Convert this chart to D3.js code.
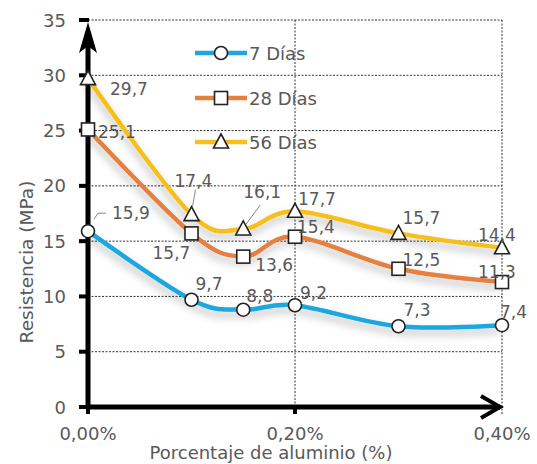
<!DOCTYPE html>
<html><head><meta charset="utf-8">
<script src="https://cdn.jsdelivr.net/npm/d3@7"></script>
<style>html,body{margin:0;padding:0;background:#fff;}svg{display:block;font-family:"DejaVu Sans",sans-serif;}</style>
</head><body>
<svg id="c" width="537" height="464"></svg>
<script>
// ---- data ----
const xValues = [0, 0.1, 0.15, 0.2, 0.3, 0.4];           // % aluminio
const seriesNames = ["7 Días", "28 Días", "56 Días"];
const dias7  = [15.9, 9.7, 8.8, 9.2, 7.3, 7.4];
const dias28 = [25.1, 15.7, 13.6, 15.4, 12.5, 11.3];
const dias56 = [29.7, 17.4, 16.1, 17.7, 15.7, 14.4];
const yTicks = [0, 5, 10, 15, 20, 25, 30, 35];
const xTicks = [0, 0.2, 0.4];
const xTickLabels = ["0,00%", "0,20%", "0,40%"];

// label offsets (layout only)
const labelOff = [
  [[24,-18],[4,-16],[3,-14],[5,-12],[5,-16],[-2,-13]],
  [[10,3],[-39,20],[12,8],[2,-10],[4,-9],[-24,-10]],
  [[22,10],[-17,-34],[0,-37],[3,-12],[4,-15],[-24,-13]]
];
const colors = ["#1EA7E1", "#E5813F", "#F6C01C"];
const markers = ["circle", "square", "triangle"];

const svg = d3.select("#c");
const x = d3.scaleLinear().domain([0, 0.4]).range([88, 502]);
const y = d3.scaleLinear().domain([0, 35]).range([407, 20]);
const txt = "#595959";

const defs = svg.append("defs");
const f = defs.append("filter").attr("id","sh").attr("x","-20%").attr("y","-20%").attr("width","140%").attr("height","160%");
f.append("feDropShadow").attr("dx",-1).attr("dy",5).attr("stdDeviation",4).attr("flood-color","#000").attr("flood-opacity",0.28);

// gridlines
const g = svg.append("g");
g.selectAll("line.h").data(yTicks.filter(d => d > 0)).join("line")
  .attr("x1", x(0)).attr("x2", x(0.4)).attr("y1", d => y(d)).attr("y2", d => y(d))
  .attr("stroke", "#333").attr("stroke-width", 1).attr("stroke-dasharray", "2,1.5");
g.selectAll("line.v").data(xTicks.filter(d => d > 0)).join("line")
  .attr("x1", d => x(d)).attr("x2", d => x(d)).attr("y1", y(35)).attr("y2", y(0) + 8)
  .attr("stroke", "#333").attr("stroke-width", 1).attr("stroke-dasharray", "2,1.5");

// axes ticks labels
svg.append("g").selectAll("text").data(yTicks).join("text")
  .attr("x", 66).attr("y", d => y(d) + 6.5).attr("text-anchor", "end")
  .attr("font-size", 18).attr("fill", txt).text(d => d);
svg.append("g").selectAll("text").data(xTicks).join("text")
  .attr("x", d => x(d)).attr("y", 440).attr("text-anchor", "middle")
  .attr("font-size", 18).attr("fill", txt).text((d, i) => xTickLabels[i]);

svg.append("text").attr("x", 271).attr("y", 459).attr("text-anchor", "middle")
  .attr("font-size", 18).attr("fill", txt).text("Porcentaje de aluminio (%)");
svg.append("text").attr("transform", "translate(33,262) rotate(-90)").attr("text-anchor", "middle")
  .attr("font-size", 18.5).attr("fill", txt).text("Resistencia (MPa)");

// axis ticks marks
svg.append("g").selectAll("rect").data(yTicks).join("rect")
  .attr("x", 79).attr("y", d => y(d) - 2).attr("width", 10).attr("height", 4).attr("fill", "#000");
svg.append("g").selectAll("rect").data(xTicks.slice(0,2)).join("rect")
  .attr("x", d => x(d) - 2).attr("y", y(0)).attr("width", 4).attr("height", 7).attr("fill", "#000");

// axes lines
svg.append("line").attr("x1", x(0)).attr("x2", x(0)).attr("y1", y(0) + 2).attr("y2", 40)
  .attr("stroke", "#000").attr("stroke-width", 5);
svg.append("path").attr("d", `M${x(0)},22 L${x(0)+9},53 L${x(0)},46 L${x(0)-9},53 Z`).attr("fill", "#000");
svg.append("line").attr("x1", x(0) - 2).attr("x2", x(0.4) - 2).attr("y1", y(0)).attr("y2", y(0))
  .attr("stroke", "#000").attr("stroke-width", 5);
svg.append("path").attr("d", `M${x(0.4)-21},${y(0)-11} L${x(0.4)-2},${y(0)} L${x(0.4)-21},${y(0)+11}`)
  .attr("fill", "none").attr("stroke", "#000").attr("stroke-width", 4);

// series
const allSeries = [dias7, dias28, dias56];
const line = d3.line().x((d, i) => x(xValues[i])).y(d => y(d)).curve(d3.curveCardinal.tension(0));

function drawMarker(sel, type) {
  if (type === "circle") {
    sel.append("circle").attr("r", 6.5).attr("fill", "#fff").attr("stroke", "#222").attr("stroke-width", 1.6);
  } else if (type === "square") {
    sel.append("rect").attr("x", -6.5).attr("y", -6.5).attr("width", 13).attr("height", 13)
      .attr("fill", "#fff").attr("stroke", "#222").attr("stroke-width", 1.6);
  } else {
    sel.append("path").attr("d", "M0,-8 L7.5,6 L-7.5,6 Z").attr("fill", "#fff").attr("stroke", "#222").attr("stroke-width", 1.6);
  }
}

const lines = svg.append("g").attr("filter", "url(#sh)");
allSeries.forEach((s, k) => {
  lines.append("path").datum(s).attr("d", line).attr("fill", "none")
    .attr("stroke", colors[k]).attr("stroke-width", 4.5);
});

// leader lines
const leader = svg.append("g").attr("stroke", "#8a8a8a").attr("stroke-width", 1).attr("fill","none");
leader.append("path").attr("d", `M${x(0)+6},${y(dias7[0])-12} L${x(0)+10},${y(dias7[0])-18} L${x(0)+18},${y(dias7[0])-18}`);
leader.append("line").attr("x1", x(0.1)+1).attr("y1", y(dias56[1])-8).attr("x2", x(0.1)+4).attr("y2", y(dias56[1])-25);
leader.append("line").attr("x1", x(0.15)+3).attr("y1", y(dias56[2])-5).attr("x2", x(0.15)+17).attr("y2", y(dias56[2])-24);

allSeries.forEach((s, k) => {
  const mg = svg.append("g");
  s.forEach((v, i) => {
    const m = mg.append("g").attr("transform", `translate(${x(xValues[i])},${y(v)})`);
    drawMarker(m, markers[k]);
  });
});
allSeries.forEach((s, k) => {
  svg.append("g").selectAll("text").data(s).join("text")
    .attr("x", (d, i) => x(xValues[i]) + labelOff[k][i][0])
    .attr("y", (d, i) => y(d) + labelOff[k][i][1] + 6)
    .attr("font-size", 17).attr("fill", txt)
    .text(d => String(d).replace(".", ","));
});

// legend
const legY = [53, 98, 142];
seriesNames.forEach((n, k) => {
  const lg = svg.append("g");
  lg.append("line").attr("x1", 195).attr("x2", 247).attr("y1", legY[k]).attr("y2", legY[k])
    .attr("stroke", colors[k]).attr("stroke-width", 4.5);
  const m = lg.append("g").attr("transform", `translate(221,${legY[k]})`);
  drawMarker(m, markers[k]);
  lg.append("text").attr("x", 249).attr("y", legY[k] + 6.5).attr("font-size", 18).attr("fill", txt).text(n);
});
</script>
</body></html>
